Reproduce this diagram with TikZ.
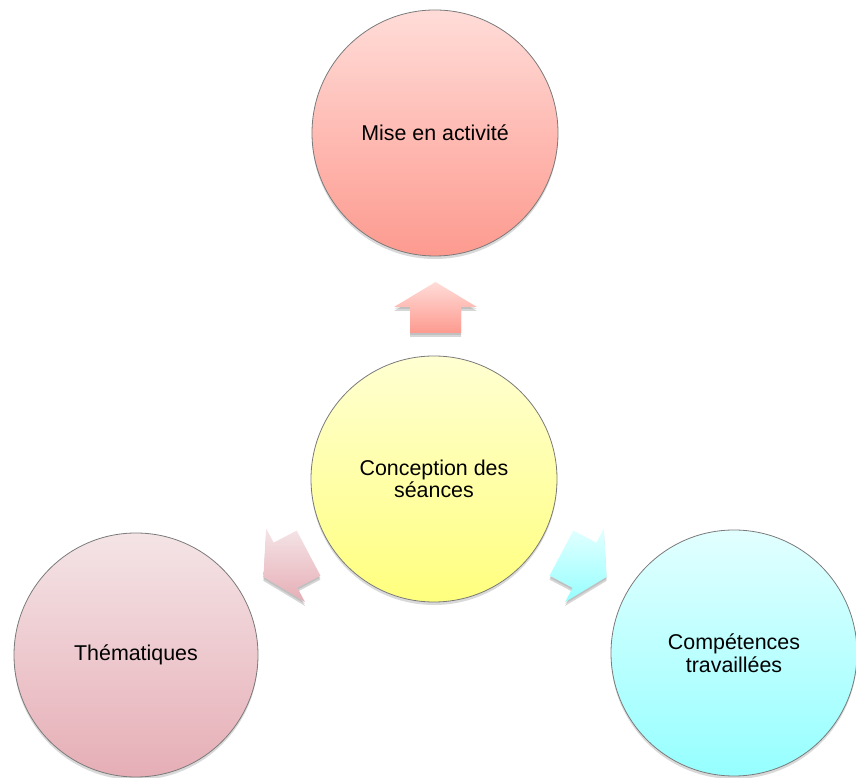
\documentclass[tikz,border=0pt]{standalone}
\usepackage{fontspec}
\setmainfont{Liberation Sans}
\usetikzlibrary{shadows}
\definecolor{redT}{HTML}{FFDCD8}
\definecolor{redB}{HTML}{FD9A8F}
\definecolor{yelT}{HTML}{FFFFD2}
\definecolor{yelB}{HTML}{FFFF7E}
\definecolor{pinkT}{HTML}{F4E4E6}
\definecolor{pinkB}{HTML}{E6AEB6}
\definecolor{cyanT}{HTML}{E2FFFF}
\definecolor{cyanB}{HTML}{96FFFF}
\definecolor{rimgray}{HTML}{7A7A7A}
\tikzset{
  bubble/.style={circle, draw=rimgray, line width=0.8pt, minimum size=246pt, inner sep=0pt,
    align=center, font=\fontsize{21.4}{22.5}\selectfont, text=black,
    drop shadow={shadow xshift=0pt, shadow yshift=-3pt, opacity=0.15, fill=black}},
  arrowfill/.style={draw=none,
    drop shadow={shadow xshift=0pt, shadow yshift=-4pt, opacity=0.16, fill=black},
    drop shadow={shadow xshift=0pt, shadow yshift=-2pt, opacity=0.10, fill=black}},
}
\newcommand{\blockarrow}{(25.5,0) -- (0.5,41.5) -- (0.5,25.5) -- (-25.5,25.5) -- (-25.5,-25.5) -- (0.5,-25.5) -- (0.5,-41.5) -- cycle}
\begin{document}
\begin{tikzpicture}[x=1pt,y=1pt]
\useasboundingbox (0,0) rectangle (856,778);
% arrows
\path[arrowfill, top color=redT, bottom color=redB, shift={(435.5,470.5)}, rotate=90] \blockarrow;
\path[arrowfill, top color=pinkT, bottom color=pinkB, shift={(286,213)}, rotate=207.8] \blockarrow;
\path[arrowfill, top color=cyanT, bottom color=cyanB, shift={(584,213)}, rotate=332.2] \blockarrow;
% circles
\node[bubble, top color=redT, bottom color=redB] (mise) at (435,645) {Mise en activité};
\node[bubble, top color=yelT, bottom color=yelB] (conc) at (434,299) {Conception des\\séances};
\node[bubble, top color=pinkT, bottom color=pinkB, minimum size=244pt] (them) at (136,123) {Thématiques};
\node[bubble, top color=cyanT, bottom color=cyanB] (comp) at (734,125) {Compétences\\travaillées};
\end{tikzpicture}
\end{document}
